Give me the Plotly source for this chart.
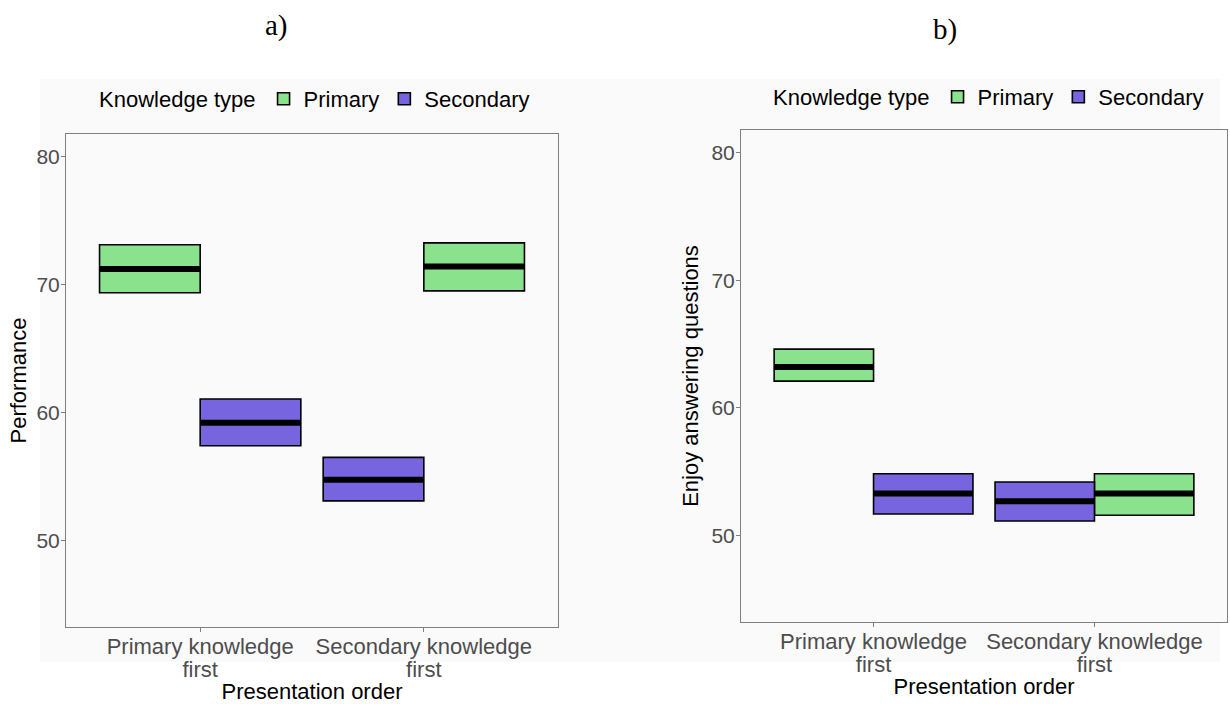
import plotly.graph_objects as go

# ---- data ----
orders = ["Primary knowledge first", "Secondary knowledge first"]
order_ticks_line1 = ["Primary knowledge", "Secondary knowledge"]
order_ticks_line2 = ["first", "first"]
knowledge_types = ["Primary", "Secondary"]

perf_primary_mean = [71.2, 71.4]
perf_primary_lo = [69.35, 69.5]
perf_primary_hi = [73.1, 73.25]
perf_secondary_mean = [59.2, 54.75]
perf_secondary_lo = [57.4, 53.1]
perf_secondary_hi = [61.05, 56.5]

enjoy_primary_mean = [63.2, 53.3]
enjoy_primary_lo = [62.1, 51.6]
enjoy_primary_hi = [64.6, 54.85]
enjoy_secondary_mean = [53.3, 52.7]
enjoy_secondary_lo = [51.7, 51.15]
enjoy_secondary_hi = [54.85, 54.2]

y_ticks = [50, 60, 70, 80]

# ---- style ----
GREEN = "#8AE38C"
PURPLE = "#7764DF"
BG = "#FAFAFA"
AXC = "#7F7F7F"
FONT = "Liberation Sans, Arial, sans-serif"
SERIF = "Liberation Serif, Times New Roman, serif"
W, H = 1230, 704
BAR_W = 0.45
X_RANGE = [0.4, 2.6]
Y_RANGE = [43.25, 81.75]
# dodge side per knowledge type within each presentation-order group
dodge = {"Primary": [-1, 1], "Secondary": [1, -1]}

fig = go.Figure()

panels = [
    ("x", "y", "x3", "legend",
     {"Primary": (perf_primary_mean, perf_primary_lo, perf_primary_hi),
      "Secondary": (perf_secondary_mean, perf_secondary_lo, perf_secondary_hi)}),
    ("x2", "y2", "x4", "legend2",
     {"Primary": (enjoy_primary_mean, enjoy_primary_lo, enjoy_primary_hi),
      "Secondary": (enjoy_secondary_mean, enjoy_secondary_lo, enjoy_secondary_hi)}),
]

for xa, ya, xa_lbl, lg, series in panels:
    for kt, color in zip(knowledge_types, [GREEN, PURPLE]):
        mean, lo, hi = series[kt]
        xs = [i + 1 + s * BAR_W / 2 for i, s in enumerate(dodge[kt])]
        fig.add_trace(go.Bar(
            x=xs, y=[h - l for h, l in zip(hi, lo)], base=lo, width=BAR_W,
            marker=dict(color=color, line=dict(color="black", width=1.6)),
            name=kt, xaxis=xa, yaxis=ya, legend=lg, showlegend=True,
        ))
        lx, ly = [], []
        for xc, m in zip(xs, mean):
            lx += [xc - BAR_W / 2, xc + BAR_W / 2, None]
            ly += [m, m, None]
        fig.add_trace(go.Scatter(
            x=lx, y=ly, mode="lines", line=dict(color="black", width=6),
            xaxis=xa, yaxis=ya, showlegend=False, hoverinfo="skip",
        ))
    # empty trace so the overlay axis carrying the 2nd tick-label line is drawn
    fig.add_trace(go.Scatter(x=[None], y=[None], xaxis=xa_lbl, yaxis=ya,
                             showlegend=False, hoverinfo="skip"))

def px_x(p):
    return p / W

def px_y(p):
    return 1 - p / H

axis_common = dict(showline=True, linecolor=AXC, linewidth=1, mirror=True,
                   ticks="outside", ticklen=4, tickcolor=AXC, showgrid=False,
                   zeroline=False,
                   title_font=dict(family=FONT, size=22, color="black"))
xtickfont = dict(family=FONT, size=22, color="#4D4D4D")
ytickfont = dict(family=FONT, size=21, color="#4D4D4D")

lbl_axis = dict(range=X_RANGE, tickvals=[1, 2], ticktext=order_ticks_line2,
                showline=False, ticks="", showgrid=False, zeroline=False,
                side="bottom", ticklabelstandoff=27, tickfont=xtickfont,
                title_font=dict(family=FONT, size=22, color="black"))

legend_common = dict(orientation="h", yanchor="middle", xanchor="center",
                     bgcolor="rgba(0,0,0,0)",
                     font=dict(family=FONT, size=22, color="black"),
                     title=dict(text="Knowledge type", side="left",
                                font=dict(family=FONT, size=22, color="black")),
                     itemwidth=30, tracegroupgap=0)

fig.update_layout(
    width=W, height=H, margin=dict(l=0, r=0, t=0, b=0),
    paper_bgcolor="white", plot_bgcolor=BG, barmode="overlay",
    font=dict(family=FONT, color="black"),
    xaxis=dict(domain=[px_x(66), px_x(558)], range=X_RANGE, anchor="y",
               tickvals=[1, 2], ticktext=order_ticks_line1, tickfont=xtickfont,
               ticklabelstandoff=-4, **axis_common),
    xaxis3=dict(overlaying="x", anchor="y",
                title=dict(text="Presentation order", standoff=2), **lbl_axis),
    yaxis=dict(domain=[px_y(627), px_y(134)], range=Y_RANGE, anchor="x",
               tickvals=y_ticks, tickfont=ytickfont, ticklabelstandoff=-3,
               title=dict(text="Performance", standoff=3), **axis_common),
    xaxis2=dict(domain=[px_x(741), px_x(1227)], range=X_RANGE, anchor="y2",
                tickvals=[1, 2], ticktext=order_ticks_line1, tickfont=xtickfont,
                ticklabelstandoff=-4, **axis_common),
    xaxis4=dict(overlaying="x2", anchor="y2",
                title=dict(text="Presentation order", standoff=2), **lbl_axis),
    yaxis2=dict(domain=[px_y(622), px_y(130)], range=Y_RANGE, anchor="x2",
                tickvals=y_ticks, tickfont=ytickfont, ticklabelstandoff=-3,
                title=dict(text="Enjoy answering questions", standoff=6), **axis_common),
    legend=dict(x=px_x(316), y=px_y(99), **legend_common),
    legend2=dict(x=px_x(990), y=px_y(97), **legend_common),
    shapes=[dict(type="rect", xref="paper", yref="paper", layer="below",
                 x0=px_x(40), x1=px_x(1220), y0=px_y(662), y1=px_y(79),
                 fillcolor=BG, line=dict(width=0))],
    annotations=[
        dict(text="a)", x=px_x(276), y=px_y(25), xref="paper", yref="paper",
             xanchor="center", yanchor="middle", showarrow=False,
             font=dict(family=SERIF, size=29, color="black")),
        dict(text="b)", x=px_x(945), y=px_y(30), xref="paper", yref="paper",
             xanchor="center", yanchor="middle", showarrow=False,
             font=dict(family=SERIF, size=29, color="black")),
    ],
)

fig.write_html("out.html", config={"displayModeBar": False},
               post_script="document.body.style.margin='0px';")
